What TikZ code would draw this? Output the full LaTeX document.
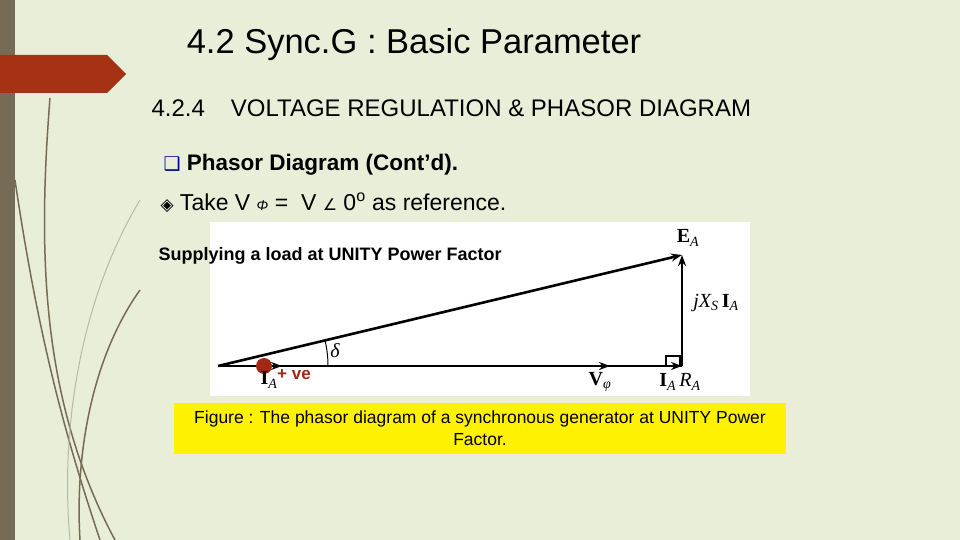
\documentclass[tikz,border=0pt]{standalone}
\usepackage{fontspec}
\setmainfont{Liberation Sans}
\newfontfamily\symf{DejaVu Sans}
\newfontfamily\serf{Liberation Serif}
\usetikzlibrary{arrows.meta}
\definecolor{bg}{RGB}{232,238,216}
\definecolor{bar}{RGB}{118,108,86}
\definecolor{rust}{RGB}{166,50,20}
\definecolor{dred}{RGB}{160,40,20}
\newcommand{\sbs}[1]{\textsubscript{\itshape\bfseries\mdseries #1}}
\begin{document}
\begin{tikzpicture}[x=1pt,y=-1pt,
  vec/.style={line width=2.6pt,-{Stealth[length=11pt,width=8pt]}},
  lab/.style={font=\serf\fontsize{20}{22}\selectfont}]
\useasboundingbox (0,0) rectangle (960,540);
\fill[bg] (0,0) rectangle (960,540);
\fill[bar] (0,0) rectangle (15,540);
\fill[rust] (0,55) -- (107,55) -- (126,74) -- (107,93) -- (0,93) -- cycle;
\begin{scope}[bar,line width=1.5pt]
\draw (50,98) .. controls (38,250) and (40,400) .. (115,540);
\draw (15,180) .. controls (40,350) and (70,450) .. (100,540);
\draw (140,290) .. controls (90,360) and (75,460) .. (80,540);
\draw[bg!60!bar,line width=1pt] (140,200) .. controls (80,300) and (60,430) .. (70,540);
\end{scope}
\node[font=\fontsize{34.5}{38}\selectfont] (t) at (414,45) {4.2 Sync.G : Basic Parameter};
\node[font=\fontsize{24}{27}\selectfont,anchor=west] (h) at (148,108) {4.2.4\hspace{26pt}VOLTAGE REGULATION \& PHASOR DIAGRAM};
\node[font=\bfseries\fontsize{22.5}{25}\selectfont,anchor=west] (p) at (160,165) {{\symf\color{blue!60!black}\fontsize{19}{20}\selectfont ❑} Phasor Diagram (Cont’d).};
\node[font=\fontsize{23}{25}\selectfont,anchor=west] (tk) at (157,203) {{\symf\fontsize{17}{18}\selectfont ◈} Take V {\fontsize{14}{14}\selectfont\itshape Φ} =\ \ V {\symf\fontsize{16}{18}\selectfont ∠} 0\textsuperscript{o} as reference.};
\fill[white] (210,222) rectangle (750,396);
\node[font=\bfseries\fontsize{18}{20}\selectfont,anchor=west] (s) at (155,256) {Supplying a load at UNITY Power Factor};
\coordinate (o) at (218,366);
\coordinate (v) at (610,366);
\coordinate (r) at (682,366);
\coordinate (e) at (682,255);
\draw[line width=2.6pt] (o) -- (r);
\draw[vec] (o) -- (v);
\draw[vec] (v) -- (r);
\draw[vec] (r) -- (e);
\draw[vec] (o) -- (e);
\draw[vec] (o) -- (282,366);
\draw[line width=1.6pt] (666,356) rectangle (680,366);
\draw[line width=1pt] (328,366) arc (0:-13.5:110);
\fill[dred] (264,366) circle (8);
\node[lab] (d) at (335,351) {\itshape δ};
\node[lab] (ia) at (269,380) {\textbf{I}\sbs{A}};
\node[font=\bfseries\fontsize{17}{18}\selectfont,text=dred] (pv) at (294,375) {+ ve};
\node[lab] (vp) at (600,382) {\textbf{V}\sbs{φ}};
\node[lab] (iar) at (680,382) {\textbf{I}\sbs{A}\,{\itshape R}\sbs{A}};
\node[lab] (jx) at (716,303) {{\itshape jX}\sbs{S}\,\textbf{I}\sbs{A}};
\node[lab] (ea) at (688,238) {\textbf{E}\sbs{A}};
\fill[yellow] (174,403) rectangle (786,454);
\node[font=\fontsize{17.5}{22}\selectfont,align=center] (cap) at (480,428) {Figure : The phasor diagram of a synchronous generator at UNITY Power\\Factor.};
\end{tikzpicture}
\end{document}
